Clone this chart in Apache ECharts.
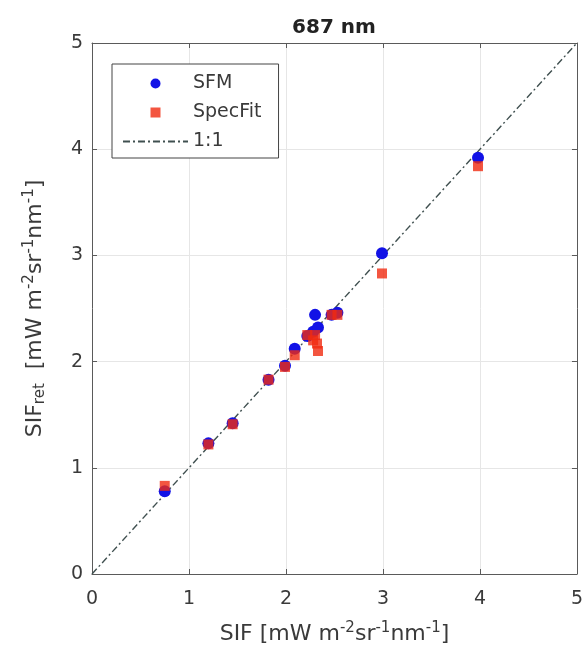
<!DOCTYPE html>
<html>
<head>
<meta charset="utf-8">
<script src="https://cdn.jsdelivr.net/npm/echarts@6/dist/echarts.min.js"></script>
<style>html,body{margin:0;padding:0;background:#fff}#c{width:586px;height:657px}</style>
</head>
<body>
<div id="c"></div>
<script>
var title = '687 nm';
var ticks = [0, 1, 2, 3, 4, 5];
var sfmX = [0.75, 1.20, 1.45, 1.82, 1.99, 2.09, 2.22, 2.28, 2.30, 2.33, 2.47, 2.53, 2.99, 3.98];
var sfmY = [0.78, 1.23, 1.42, 1.83, 1.96, 2.12, 2.24, 2.28, 2.44, 2.32, 2.44, 2.46, 3.02, 3.92];
var specX = [0.75, 1.20, 1.45, 1.82, 1.99, 2.09, 2.22, 2.28, 2.30, 2.33, 2.32, 2.47, 2.53, 2.99, 3.98];
var specY = [0.83, 1.22, 1.41, 1.83, 1.95, 2.06, 2.25, 2.20, 2.25, 2.10, 2.17, 2.44, 2.44, 2.83, 3.84];
var oneX = [0, 5];
var oneY = [0, 5];

function pairs(xs, ys) { return xs.map(function (x, i) { return [x, ys[i]]; }); }

var chart = echarts.init(document.getElementById('c'), null, {renderer: 'canvas'});
var font = 'DejaVu Sans, Verdana, sans-serif';
var axisCol = '#5a5a5a';
var txtCol = '#3a3a3a';
var baseAxis = {
  min: ticks[0], max: ticks[ticks.length - 1], interval: 1,
  axisLine: {show: true, onZero: false, lineStyle: {color: axisCol, width: 1}},
  axisTick: {show: true, inside: true, length: 5, lineStyle: {color: axisCol}},
  splitLine: {show: false}
};
var richName = {
  b: {fontSize: 22, color: txtCol, fontFamily: font, lineHeight: 26, verticalAlign: 'middle'},
  sup: {fontSize: 15, color: txtCol, fontFamily: font, lineHeight: 26, verticalAlign: 'top', padding: [0, 0, 9, 0]},
  sub: {fontSize: 15, color: txtCol, fontFamily: font, lineHeight: 26, verticalAlign: 'bottom', padding: [9, 0, 0, 0]}
};
var option = {
  backgroundColor: '#fff',
  animation: false,
  title: {
    text: title, left: 329, top: 13, textAlign: 'center',
    textStyle: {fontFamily: font, fontSize: 20, fontWeight: 'bold', color: '#222'}
  },
  grid: {left: 92, right: 9, top: 43, bottom: 83, show: false},
  legend: {
    orient: 'vertical', left: 112, top: 64,
    padding: [10, 17, 7, 10],
    itemWidth: 65, itemHeight: 10, itemGap: 10,
    borderColor: '#444', borderWidth: 1, backgroundColor: '#fff',
    textStyle: {fontFamily: font, fontSize: 19, color: txtCol},
    data: [
      {name: 'SFM', icon: 'circle'},
      {name: 'SpecFit', icon: 'path://M0,0L10,0L10,10L0,10Z'},
      {name: '1:1', itemStyle: {opacity: 0}}
    ]
  },
  xAxis: [
    Object.assign({}, baseAxis, {
      type: 'value', position: 'bottom',
      splitLine: {show: true, lineStyle: {color: '#e6e6e6', width: 1}},
      axisLabel: {fontFamily: font, fontSize: 19, color: txtCol, margin: 16},
      name: '{b|SIF [mW m}{sup|-2}{b|sr}{sup|-1}{b|nm}{sup|-1}{b|]}',
      nameLocation: 'middle', nameGap: 47,
      nameTextStyle: {rich: richName}
    }),
    Object.assign({}, baseAxis, {
      type: 'value', position: 'top', axisLabel: {show: false}
    })
  ],
  yAxis: [
    Object.assign({}, baseAxis, {
      type: 'value', position: 'left',
      splitLine: {show: true, lineStyle: {color: '#e6e6e6', width: 1}},
      axisLabel: {fontFamily: font, fontSize: 19, color: txtCol, margin: 9},
      name: '{b|SIF}{sub|ret}{b|  [mW m}{sup|-2}{b|sr}{sup|-1}{b|nm}{sup|-1}{b|]}',
      nameLocation: 'middle', nameGap: 44, nameRotate: 90,
      nameTextStyle: {rich: richName}
    }),
    Object.assign({}, baseAxis, {
      type: 'value', position: 'right', axisLabel: {show: false}
    })
  ],
  series: [
    {
      name: '1:1', type: 'line', xAxisIndex: 0, yAxisIndex: 0,
      data: pairs(oneX, oneY), symbol: 'none', z: 1,
      lineStyle: {color: '#405050', width: 1.4, type: [7, 3, 2, 3]}
    },
    {
      name: 'SFM', type: 'scatter', xAxisIndex: 0, yAxisIndex: 0,
      data: pairs(sfmX, sfmY), symbol: 'circle', symbolSize: 12, z: 2,
      itemStyle: {color: '#1212e6', opacity: 1}
    },
    {
      name: 'SpecFit', type: 'scatter', xAxisIndex: 0, yAxisIndex: 0,
      data: pairs(specX, specY), symbol: 'rect', symbolSize: 10, z: 3,
      itemStyle: {color: '#f02a10', opacity: 0.8}
    }
  ]
};
chart.setOption(option);
</script>
</body>
</html>
